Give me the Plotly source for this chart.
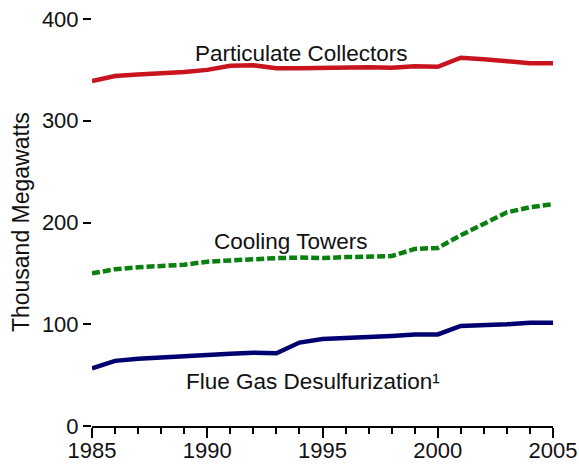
import plotly.graph_objects as go

years = list(range(1985, 2006))
particulate = [339, 344, 345.5, 346.5, 348, 350, 354, 354.5, 351.5, 351.5, 352, 352.5, 352.5, 352, 353.5, 353, 362, 360.5, 359, 356.5, 356.5]
cooling = [150, 154, 156, 157, 158.5, 161.5, 163, 164.5, 165, 165.5, 165, 166, 166.5, 167, 174, 175, 187.5, 199, 210, 215, 218]
fgd = [56.7, 64, 66, 67.5, 68, 70, 71, 72, 71.5, 82, 85.5, 86.5, 87, 88.5, 90, 90, 98.3, 99, 100, 101.5, 101.5]

y_ticks = [0, 100, 200, 300, 400]
x_ticks = [1985, 1990, 1995, 2000, 2005]

FONT = "Liberation Sans, Arial, sans-serif"

fig = go.Figure()
fig.add_trace(go.Scatter(x=years, y=particulate, mode="lines",
                         line=dict(color="#C8141E", width=4.5), showlegend=False))
fig.add_trace(go.Scatter(x=years, y=cooling, mode="lines",
                         line=dict(color="#0A8010", width=4.5, dash="8px,3px"), showlegend=False))
fig.add_trace(go.Scatter(x=years, y=fgd, mode="lines",
                         line=dict(color="#000070", width=4.5), showlegend=False))

annots = [
    dict(text="Particulate Collectors", x=1994.1, y=366.5),
    dict(text="Cooling Towers", x=1993.6, y=181),
    dict(text="Flue Gas Desulfurization¹", x=1994.6, y=44),
]
for a in annots:
    fig.add_annotation(text=a["text"], x=a["x"], y=a["y"], xref="x", yref="y",
                       showarrow=False, font=dict(family=FONT, size=22.5, color="#111111"),
                       xanchor="center", yanchor="middle")

fig.add_annotation(text="Thousand Megawatts", xref="paper", yref="paper",
                   x=-0.154, y=0.501, textangle=-90, showarrow=False,
                   font=dict(family=FONT, size=23, color="#111111"),
                   xanchor="center", yanchor="middle")

fig.update_layout(
    width=579, height=466,
    margin=dict(l=92, r=26, t=19, b=40, autoexpand=False),
    paper_bgcolor="white", plot_bgcolor="white",
    font=dict(family=FONT, size=22, color="#111111"),
    xaxis=dict(range=[1985, 2005], tickvals=x_ticks, ticktext=[str(v) for v in x_ticks],
               ticks="outside", ticklen=10, tickwidth=2, tickcolor="black",
               showline=True, linecolor="black", linewidth=2, showgrid=False, zeroline=False,
               automargin=False, ticklabelstandoff=-6,
               minor=dict(dtick=1, tick0=1985, ticks="outside", ticklen=6, tickwidth=2,
                          tickcolor="black", showgrid=False),
               tickfont=dict(family=FONT, size=22, color="#111111")),
    yaxis=dict(range=[0, 400], tickvals=y_ticks, ticks="outside", ticklen=8, tickwidth=2,
               tickcolor="black", showline=False, showgrid=False, zeroline=False,
               automargin=False,
               tickfont=dict(family=FONT, size=22, color="#111111")),
)

fig.write_html("out.html", config={"displayModeBar": False},
               post_script="document.body.style.margin='0';document.body.style.padding='0';")
